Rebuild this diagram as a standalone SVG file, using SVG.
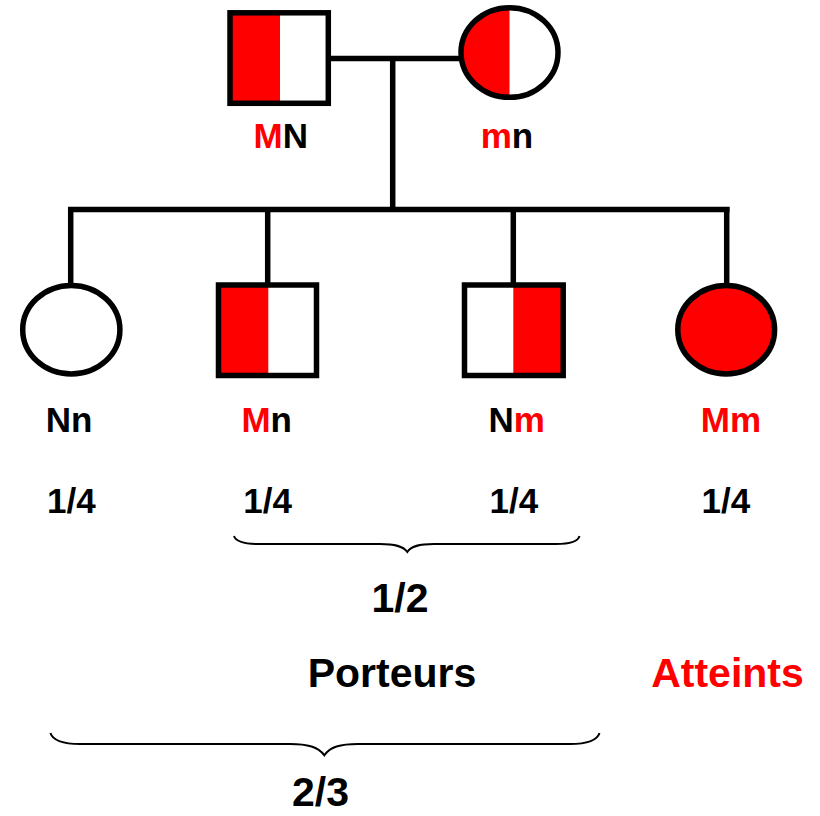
<svg xmlns="http://www.w3.org/2000/svg" width="820" height="816" viewBox="0 0 820 816">
<style>
.shape{stroke:#000;stroke-width:5.5;fill:none}
.red{fill:#FF0000}
.white{fill:#FFFFFF}
.line{stroke:#000;stroke-width:5.5;fill:none}
.brace{stroke:#000;stroke-width:2;fill:none}
text{font-family:"Liberation Sans",Arial,sans-serif;font-weight:bold;text-anchor:middle;fill:#000}
.lbl{font-size:35px}
.big{font-size:41px}
.r{fill:#FF0000}
</style>
<rect width="820" height="816" fill="#FFFFFF"/>
<g id="connectors">
<line class="line" x1="331" y1="58.5" x2="459" y2="58.5"/>
<line class="line" x1="392.7" y1="58.5" x2="392.7" y2="209.5"/>
<line class="line" x1="68" y1="209.5" x2="729.5" y2="209.5"/>
<line class="line" x1="70.7" y1="207" x2="70.7" y2="284"/>
<line class="line" x1="267.7" y1="209.5" x2="267.7" y2="284"/>
<line class="line" x1="513.3" y1="209.5" x2="513.3" y2="284"/>
<line class="line" x1="726.7" y1="207" x2="726.7" y2="284"/>
</g>
<g id="father">
<rect class="white" x="230" y="12.8" width="98.3" height="90.5"/>
<rect class="red" x="230" y="12.8" width="50" height="90.5"/>
<rect class="shape" x="230" y="12.8" width="98.3" height="90.5"/>
<text class="lbl" x="280.8" y="148"><tspan class="r">M</tspan>N</text>
</g>
<g id="mother">
<ellipse class="white" cx="509.5" cy="52.5" rx="48.5" ry="44.8"/>
<path class="red" d="M509.5,7.7 A48.5,44.8 0 0 0 509.5,97.3 Z"/>
<ellipse class="shape" cx="509.5" cy="52.5" rx="48.5" ry="44.8"/>
<text class="lbl" x="507" y="148"><tspan class="r">m</tspan>n</text>
</g>
<g id="child1">
<ellipse class="white shape" cx="71.3" cy="329.7" rx="48.6" ry="44.3"/>
<text class="lbl" x="69" y="432">Nn</text>
<text class="lbl" x="71.3" y="513">1/4</text>
</g>
<g id="child2">
<rect class="white" x="218.5" y="285" width="98" height="90.5"/>
<rect class="red" x="218.5" y="285" width="49.8" height="90.5"/>
<rect class="shape" x="218.5" y="285" width="98" height="90.5"/>
<text class="lbl" x="266.7" y="432"><tspan class="r">M</tspan>n</text>
<text class="lbl" x="267.7" y="513">1/4</text>
</g>
<g id="child3">
<rect class="white" x="464.5" y="285" width="98.7" height="90.5"/>
<rect class="red" x="513.3" y="285" width="49.9" height="90.5"/>
<rect class="shape" x="464.5" y="285" width="98.7" height="90.5"/>
<text class="lbl" x="516.7" y="432">N<tspan class="r">m</tspan></text>
<text class="lbl" x="513.8" y="513">1/4</text>
</g>
<g id="child4">
<ellipse class="red shape" cx="726.2" cy="329.7" rx="48.4" ry="44.3"/>
<text class="lbl r" x="731" y="432">Mm</text>
<text class="lbl" x="725.8" y="513">1/4</text>
</g>
<g id="brace1">
<path class="brace" d="M234,536 C236,542 245,544 258,544 L380,544 C395,544 403,546 407.3,552 C411,546 419,544 434,544 L556,544 C569,544 578,542 579.5,536"/>
<text class="big" x="400" y="611.5">1/2</text>
</g>
<g id="labels">
<text class="big" x="392" y="686.5">Porteurs</text>
<text class="big r" x="727.5" y="686.5">Atteints</text>
</g>
<g id="brace2">
<path class="brace" d="M50.4,733 C53,741 63,744 80,744 L290,744 C308,744 318,747 324.4,755.3 C330,747 340,744 358,744 L570,744 C587,744 597,741 599.5,733"/>
<text class="big" x="320.5" y="806">2/3</text>
</g>
</svg>
